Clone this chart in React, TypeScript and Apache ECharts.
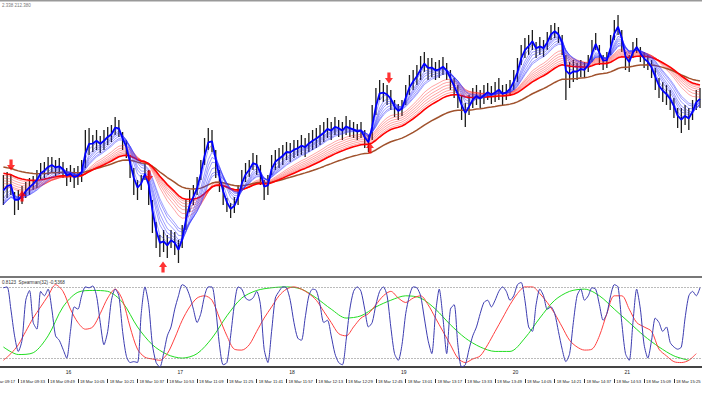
import React, { useEffect, useRef } from 'react';
import * as echarts from 'echarts';

// ---- time axis (minutes after 18 Mar 09:17) ----
const barStartMin = 8;
const barStepMin = 2;
const xMaxMin = 383.08;
const timeTickMins = [0, 16, 32, 48, 64, 80, 96, 112, 128, 144, 160, 176, 192, 208, 224, 240, 256, 272, 288, 304, 320, 336, 352, 368];
const timeLabels = ['18 Mar 09:17', '18 Mar 09:33', '18 Mar 09:49', '18 Mar 10:05', '18 Mar 10:21', '18 Mar 10:37', '18 Mar 10:53', '18 Mar 11:09', '18 Mar 11:25', '18 Mar 11:41', '18 Mar 11:57', '18 Mar 12:13', '18 Mar 12:29', '18 Mar 12:45', '18 Mar 13:01', '18 Mar 13:17', '18 Mar 13:33', '18 Mar 13:49', '18 Mar 14:05', '18 Mar 14:21', '18 Mar 14:37', '18 Mar 14:53', '18 Mar 15:09', '18 Mar 15:25'];
const hourTickMins = [43, 103, 163, 223, 283, 343];
const hourLabels = ['16', '17', '18', '19', '20', '21'];

// ---- price bars (2-minute bars, price in points) ----
const highs = [125, 128, 126, 108, 110, 114, 118, 122, 124, 130,
  137, 138, 143, 143, 140, 142, 138, 132, 135, 132,
  134, 140, 170, 172, 165, 170, 164, 170, 173, 175,
  183, 180, 168, 160, 145, 132, 120, 125, 137, 130,
  100, 78, 65, 70, 65, 70, 68, 60, 75, 100,
  110, 115, 123, 140, 162, 172, 170, 150, 130, 115,
  102, 97, 103, 115, 130, 137, 140, 147, 145, 135,
  120, 125, 145, 150, 152, 155, 158, 157, 160, 160,
  165, 162, 167, 170, 172, 175, 178, 182, 178, 183,
  180, 178, 184, 180, 178, 176, 178, 170, 165, 195,
  212, 220, 217, 215, 210, 200, 196, 200, 215, 225,
  230, 235, 244, 248, 242, 242, 238, 240, 243, 237,
  230, 222, 215, 205, 197, 205, 212, 215, 210, 215,
  217, 214, 218, 222, 215, 216, 220, 230, 242, 255,
  262, 265, 270, 258, 263, 260, 268, 275, 277, 273,
  265, 245, 238, 240, 237, 240, 238, 245, 260, 267,
  255, 245, 248, 265, 280, 285, 270, 248, 245, 258,
  262, 253, 248, 245, 240, 232, 222, 218, 215, 210,
  202, 192, 192, 195, 192, 200, 210, 212];
const lows = [95, 102, 105, 85, 90, 96, 102, 105, 110, 112,
  120, 122, 125, 128, 124, 126, 122, 114, 118, 112,
  115, 118, 132, 145, 148, 150, 147, 150, 155, 158,
  165, 163, 150, 142, 122, 105, 100, 110, 120, 95,
  67, 52, 43, 48, 42, 52, 45, 37, 52, 70,
  88, 95, 105, 120, 135, 150, 148, 122, 108, 95,
  88, 82, 87, 95, 110, 118, 123, 130, 125, 115,
  100, 105, 125, 130, 132, 135, 140, 138, 142, 144,
  145, 143, 148, 150, 152, 155, 158, 162, 160, 165,
  163, 160, 165, 163, 162, 160, 162, 152, 148, 160,
  185, 200, 198, 195, 190, 183, 180, 184, 195, 205,
  210, 215, 220, 228, 220, 223, 220, 222, 225, 220,
  210, 202, 192, 180, 173, 185, 192, 195, 192, 196,
  200, 196, 198, 200, 195, 200, 204, 210, 218, 235,
  242, 245, 250, 242, 245, 243, 250, 260, 262, 257,
  245, 200, 212, 218, 220, 223, 222, 228, 238, 250,
  235, 230, 232, 245, 260, 265, 248, 230, 228, 242,
  247, 238, 232, 230, 222, 210, 202, 198, 195, 190,
  182, 172, 167, 175, 170, 180, 190, 192];

// ---- moving-average ribbon (periods in 2-minute bars, values at left edge) ----
const bluePeriods = [1.5, 2.5, 4, 5, 6, 7.5, 9, 10];
const blueSeeds = [108, 100, 95, 92, 91, 91, 92, 93];
const redPeriods = [15, 17.5, 20, 22.5, 25, 27.5, 30];
const redSeeds = [112, 114, 117, 120, 123, 126, 128];
const brownPeriod = 50;
const brownSeed = 134;

// ---- signal arrows (minute, price) ----
const arrowDownMin = [12.1, 86.2, 215.0];
const arrowDownPrice = [135, 124, 222];
const arrowUpMin = [18.0, 93.7, 204.8];
const arrowUpPrice = [104, 33, 152];

// ---- Spearman indicator ----
const spBlue = [0.78, 0.8, 0.3, -0.3, -0.65, -0.4, 0.5, 0.72, 0.0, -0.15,
  0.7, 0.6, 0.75, 0.3, -0.3, -0.4, -0.6, -0.8, -0.2, 0.35,
  0.3, 0.6, 0.8, 0.78, 0.82, 0.6, 0.0, -0.5, -0.2, 0.5,
  0.75, 0.6, -0.2, -0.75, -0.9, -0.88, -0.9, 0.2, 0.8, 0.4,
  -0.5, -0.9, -1.0, -0.7, -0.3, -0.1, 0.3, 0.6, 0.85, 0.8,
  0.6, 0.3, 0.0, 0.2, 0.6, 0.8, 0.8, 0.3, -0.5, -0.95,
  -0.9, -0.3, 0.4, 0.8, 0.75, 0.55, 0.5, 0.55, 0.7, 0.4,
  -0.6, -0.9, -0.2, 0.55, 0.7, 0.8, 0.78, 0.5, 0.0, -0.35,
  -0.4, 0.1, 0.6, 0.75, 0.72, 0.4, 0.0, 0.05, -0.3, -0.7,
  -0.9, -0.95, -0.4, 0.3, 0.7, 0.8, 0.7, 0.3, -0.1, 0.0,
  0.4, 0.7, 0.8, 0.6, -0.1, -0.7, -0.85, -0.5, 0.2, 0.6,
  0.8, 0.78, 0.6, 0.1, -0.4, -0.7, 0.2, 0.75, 0.1, -0.7,
  0.3, 0.4, -0.5, -1.0, -0.95, -0.6, -0.3, -0.1, 0.2, 0.45,
  0.5, 0.35, 0.5, 0.7, 0.8, 0.7, 0.5, 0.6, 0.85, 0.9,
  0.5, -0.1, -0.2, 0.4, 0.75, 0.6, 0.3, 0.35, 0.2, -0.2,
  -0.6, -0.88, -0.7, 0.0, 0.6, 0.75, 0.5, 0.6, 0.78, 0.75,
  0.4, 0.05, 0.2, 0.6, 0.85, 0.8, 0.0, -0.7, -0.85, 0.0,
  0.75, 0.3, -0.5, -0.8, -0.4, 0.1, 0.0, -0.2, -0.1, -0.45,
  -0.55, -0.6, -0.55, 0.1, 0.6, 0.7, 0.6, 0.78];
const spRedStepMin = 4;
const spRed = [-0.85, -0.7, -0.5, -0.2, 0.1, 0.35, 0.6, 0.85, 0.7, 0.3,
  0.0, -0.15, -0.1, 0.2, 0.55, 0.75, 0.5, -0.1, -0.6, -0.78,
  -0.82, -0.85, -0.7, -0.35, 0.05, 0.35, 0.55, 0.6, 0.5, 0.1,
  -0.3, -0.6, -0.62, -0.5, -0.2, 0.1, 0.35, 0.6, 0.75, 0.8,
  0.75, 0.65, 0.5, 0.25, 0.0, -0.25, -0.3, -0.1, 0.1, 0.2,
  0.4, 0.6, 0.7, 0.55, 0.45, 0.55, 0.6, 0.4, 0.1, -0.2,
  -0.5, -0.8, -0.9, -0.82, -0.75, -0.5, -0.2, 0.1, 0.4, 0.65,
  0.8, 0.8, 0.65, 0.45, 0.2, -0.1, -0.4, -0.55, -0.62, -0.6,
  -0.3, 0.2, 0.6, 0.6, 0.3, 0.0, -0.1, -0.2, -0.6, -0.75,
  -0.88, -0.9, -0.85, -0.7];
const spGreenStepMin = 8;
const spGreen = [-0.55, -0.72, -0.68, -0.3, 0.35, 0.68, 0.72, 0.7, 0.45, -0.1,
  -0.5, -0.72, -0.8, -0.7, -0.35, 0.15, 0.55, 0.72, 0.78, 0.8,
  0.75, 0.55, 0.3, 0.1, 0.15, 0.35, 0.5, 0.6, 0.55, 0.3,
  -0.05, -0.35, -0.55, -0.65, -0.65, -0.35, 0.1, 0.5, 0.7, 0.75,
  0.6, 0.3, 0.0, -0.3, -0.55, -0.75, -0.85];
const spLevels = [0.8, -0.8];

const headerText = '2.338 212.380';
const indicatorText = '0.8123  Spearman(32) -0.5368';

const FONT = "'Liberation Sans', Arial, sans-serif";

function ema(src: number[], period: number, seed: number): number[] {
  const a = 2 / (period + 1);
  const out: number[] = [];
  let prev = seed;
  for (let i = 0; i < src.length; i++) {
    prev = prev + a * (src[i] - prev);
    out.push(prev);
  }
  return out;
}

export default function App() {
  const ref = useRef<HTMLDivElement>(null);
  useEffect(() => {
    document.body.style.margin = '0';
    if (!ref.current) return;
    const chart = echarts.init(ref.current, undefined, { renderer: 'svg' });
    const tAt = (i: number) => barStartMin + i * barStepMin;
    const mids = highs.map((h, i) => (h + lows[i]) / 2);
    const lineSeries = (vals: number[], color: string, width: number, opacity: number, z: number) => ({
      type: 'line',
      xAxisIndex: 0,
      yAxisIndex: 0,
      data: vals.map((v, i) => [tAt(i), v]),
      showSymbol: false,
      symbol: 'none',
      silent: true,
      z,
      lineStyle: { color, width, opacity },
    });
    const series: any[] = [];
    series.push({
      type: 'custom',
      xAxisIndex: 0,
      yAxisIndex: 0,
      z: 1,
      silent: true,
      data: highs.map((h, i) => [tAt(i), h, lows[i]]),
      encode: { x: 0, y: [1, 2] },
      renderItem: (params: any, api: any) => {
        const t = api.value(0);
        const hi = api.coord([t, api.value(1)]);
        const lo = api.coord([t, api.value(2)]);
        return {
          type: 'line',
          shape: { x1: hi[0], y1: hi[1], x2: lo[0], y2: lo[1] },
          style: { stroke: '#1c1c1c', lineWidth: 1.3 },
        };
      },
    });
    redPeriods.forEach((p, k) => {
      const thick = k === redPeriods.length - 1;
      series.push(lineSeries(ema(mids, p, redSeeds[k]), thick ? '#ff0000' : '#ff3030', thick ? 1.6 : 0.8, thick ? 1 : 0.55, thick ? 4 : 2));
    });
    series.push(lineSeries(ema(mids, brownPeriod, brownSeed), '#a0522d', 1.5, 1, 3));
    bluePeriods.forEach((p, k) => {
      const thick = k === 0;
      series.push(lineSeries(ema(mids, p, blueSeeds[k]), thick ? '#0000ff' : '#3030ff', thick ? 1.8 : 0.8, thick ? 1 : 0.6, thick ? 6 : 5));
    });
    series.push({
      type: 'scatter', xAxisIndex: 0, yAxisIndex: 0, z: 8, silent: true,
      symbol: 'path://M3,0 L7,0 L7,6 L10,6 L5,12 L0,6 L3,6 Z',
      symbolSize: [8, 11],
      itemStyle: { color: '#ff0000' },
      data: arrowDownMin.map((t, i) => [t, arrowDownPrice[i]]),
    });
    series.push({
      type: 'scatter', xAxisIndex: 0, yAxisIndex: 0, z: 8, silent: true,
      symbol: 'path://M5,0 L10,6 L7,6 L7,12 L3,12 L3,6 L0,6 Z',
      symbolSize: [8, 11],
      itemStyle: { color: '#ff0000' },
      data: arrowUpMin.map((t, i) => [t, arrowUpPrice[i]]),
    });
    // indicator
    series.push({
      type: 'line', xAxisIndex: 1, yAxisIndex: 1, silent: true, showSymbol: false, symbol: 'none', z: 3,
      smooth: 0.3,
      data: spGreen.map((v, i) => [barStartMin + i * spGreenStepMin, v]),
      lineStyle: { color: '#22dd22', width: 1 },
    });
    series.push({
      type: 'line', xAxisIndex: 1, yAxisIndex: 1, silent: true, showSymbol: false, symbol: 'none', z: 4,
      smooth: 0.3,
      data: spRed.map((v, i) => [barStartMin + i * spRedStepMin, v]),
      lineStyle: { color: '#ff4040', width: 1 },
    });
    series.push({
      type: 'line', xAxisIndex: 1, yAxisIndex: 1, silent: true, showSymbol: false, symbol: 'none', z: 5,
      smooth: 0.25,
      data: spBlue.map((v, i) => [tAt(i), v]),
      lineStyle: { color: '#3c3cb0', width: 1 },
      markLine: {
        silent: true,
        symbol: ['none', 'none'],
        label: { show: false },
        lineStyle: { color: '#777', type: [1, 2], width: 1 },
        data: spLevels.map((v) => ({ yAxis: v })),
      },
    });

    chart.setOption({
      animation: false,
      backgroundColor: '#ffffff',
      grid: [
        { left: -11.5, right: 0, top: 5, height: 267, outerBoundsMode: 'none' },
        { left: -11.5, right: 0, top: 278, height: 89, outerBoundsMode: 'none' },
      ],
      xAxis: [
        { type: 'value', gridIndex: 0, min: 0, max: xMaxMin, show: false },
        {
          type: 'value', gridIndex: 1, min: 0, max: xMaxMin, position: 'bottom',
          axisLine: { show: true, onZero: false, lineStyle: { color: '#444', width: 2 } },
          axisTick: { show: false },
          splitLine: { show: false },
          axisLabel: {
            customValues: hourTickMins,
            formatter: (v: number) => hourLabels[hourTickMins.indexOf(v)] ?? '',
            fontSize: 5, color: '#222', margin: 2, fontFamily: FONT,
          },
        },
        {
          type: 'value', gridIndex: 1, min: 0, max: xMaxMin, position: 'bottom', offset: 12,
          axisLine: { show: false, onZero: false },
          axisTick: { show: true, customValues: timeTickMins, length: 4, lineStyle: { color: '#333', width: 1 } },
          splitLine: { show: false },
          axisLabel: {
            customValues: timeTickMins,
            formatter: (v: number) => timeLabels[timeTickMins.indexOf(v)] ?? '',
            fontSize: 4.2, color: '#222', margin: 0, align: 'left', padding: [0, 0, 0, 2], fontFamily: FONT,
          },
        },
      ],
      yAxis: [
        { type: 'value', gridIndex: 0, min: 28, max: 295, show: false },
        { type: 'value', gridIndex: 1, min: -1, max: 1, show: false },
      ],
      graphic: [
        { type: 'line', shape: { x1: 0, y1: 0.5, x2: 702, y2: 0.5 }, style: { stroke: '#999', lineWidth: 2 }, silent: true },
        { type: 'line', shape: { x1: 0, y1: 277, x2: 702, y2: 277 }, style: { stroke: '#777', lineWidth: 2 }, silent: true },
        { type: 'text', left: 2, top: 2.5, style: { text: headerText, fontSize: 4.5, fill: '#777', fontFamily: FONT }, silent: true },
        { type: 'text', left: 2, top: 279.5, style: { text: indicatorText, fontSize: 4.6, fill: '#333', fontFamily: FONT }, silent: true },
      ],
      series,
    });
    return () => chart.dispose();
  }, []);
  return <div ref={ref} style={{ position: 'absolute', left: 0, top: 0, width: 702, height: 395 }} />;
}
